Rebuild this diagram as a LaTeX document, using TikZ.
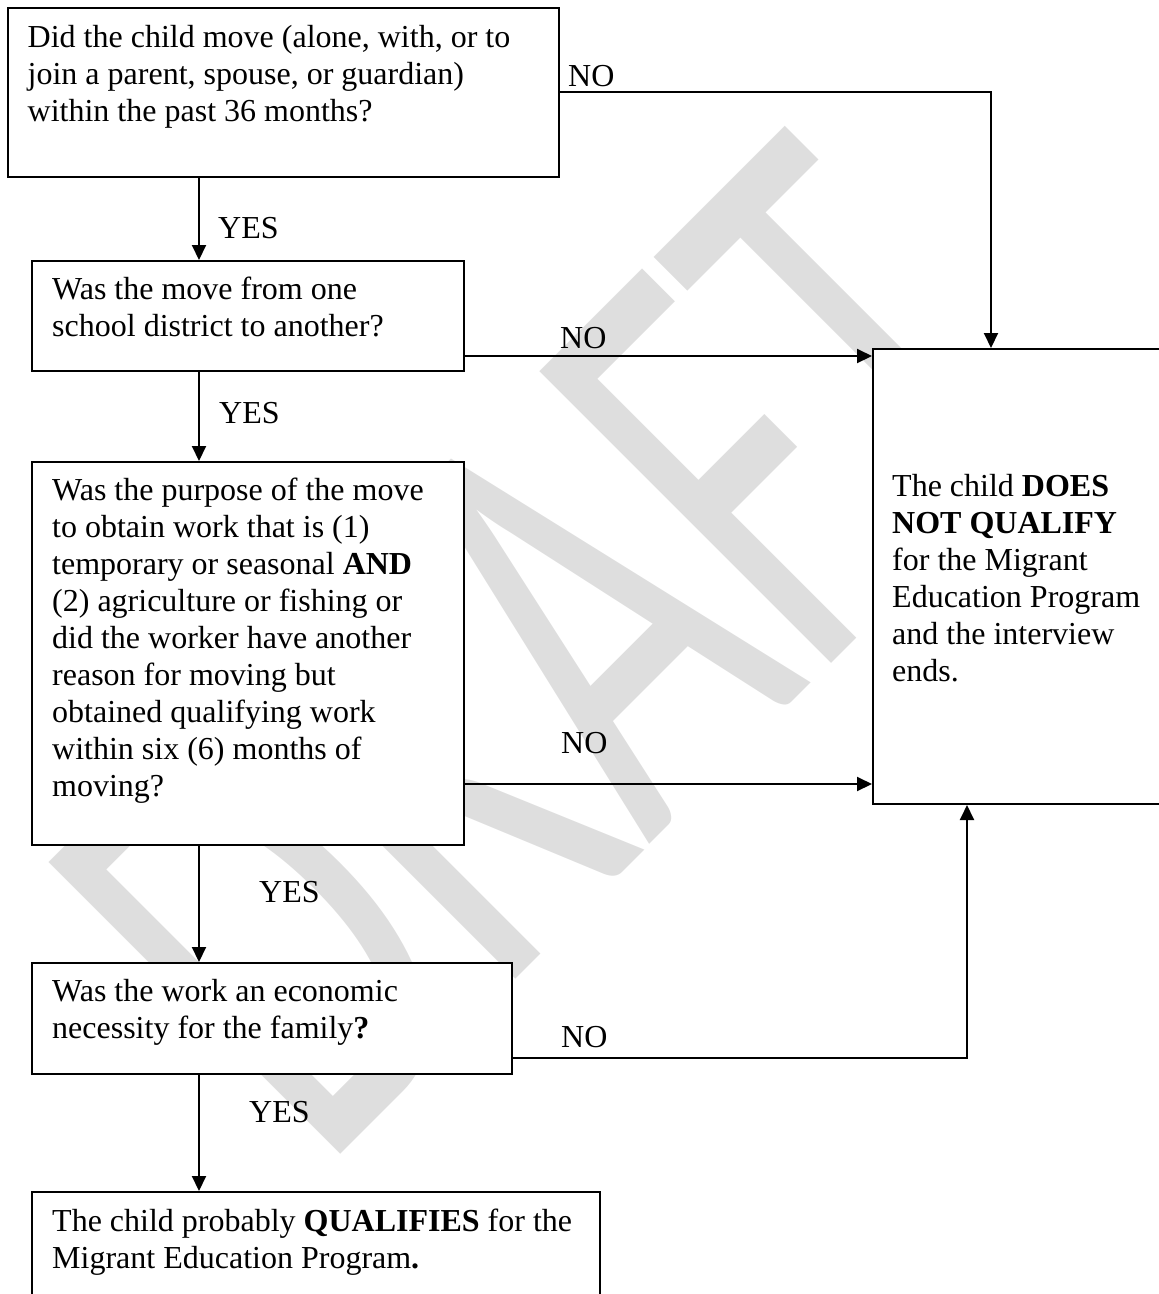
\documentclass[tikz,border=0pt]{standalone}
\usepackage{fontspec}
\setmainfont{Liberation Serif}
\newfontfamily\wmfont{Carlito}
\usetikzlibrary{arrows.meta}
\begin{document}
\begin{tikzpicture}[x=1pt,y=-1pt,
  box/.style={draw=black, line width=2pt, fill=white, rectangle, inner sep=0pt, anchor=north west},
  body/.style={anchor=base west, inner sep=0pt, font=\fontsize{32}{37}\selectfont},
  lbl/.style={anchor=west, inner sep=0pt, font=\fontsize{32}{37}\selectfont},
  flow/.style={line width=2pt, -{Triangle[length=15pt,width=14pt]}},
  wmark/.style={rotate=45, inner sep=0pt, text=black!13}]
\useasboundingbox (0,0) rectangle (1159,1294);
\clip (0,0) rectangle (1159,1294);

% watermark behind everything
\node[wmark] (wm) at (555,648) {\resizebox{1070pt}{412pt}{\wmfont DRAFT}};

% boxes
\node[box, minimum width=551pt, minimum height=169pt] (b1) at (6.7,6.7) {};
\node[box, minimum width=432pt, minimum height=110pt] (b2) at (30.7,260) {};
\node[box, minimum width=432pt, minimum height=383pt] (b3) at (30.7,461) {};
\node[box, minimum width=480pt, minimum height=111pt] (b4) at (30.7,962) {};
\node[box, minimum width=568pt, minimum height=120pt] (b5) at (30.7,1191) {};
\node[box, minimum width=300pt, minimum height=455pt] (rb) at (872,348) {};

% box texts
\node[body] (t1) at (27.5,47) {\parbox[t]{600pt}{Did the child move (alone, with, or to\\join a parent, spouse, or guardian)\\within the past 36 months?}};
\node[body] (t2) at (52,299) {\parbox[t]{420pt}{Was the move from one\\school district to another?}};
\node[body] (t3) at (52,500) {\parbox[t]{420pt}{Was the purpose of the move\\to obtain work that is (1)\\temporary or seasonal \textbf{AND}\\(2) agriculture or fishing or\\did the worker have another\\reason for moving but\\obtained qualifying work\\within six (6) months of\\moving?}};
\node[body] (t4) at (52,1001) {\parbox[t]{470pt}{Was the work an economic\\necessity for the family\textbf{?}}};
\node[body] (t5) at (52,1231) {\parbox[t]{560pt}{The child probably \textbf{QUALIFIES} for the\\Migrant Education Program\textbf{.}}};
\node[body] (t6) at (892,496) {\parbox[t]{270pt}{The child \textbf{DOES}\\\textbf{NOT QUALIFY}\\for the Migrant\\Education Program\\and the interview\\ends.}};

% routing points
\coordinate (colA) at (199,0);
\coordinate (c1) at (991,92);
\coordinate (n2) at (700,356);
\coordinate (n3) at (700,784);
\coordinate (c4) at (967,1058);

% YES connectors
\draw[flow] (b1.south -| colA) -- (b2.north -| colA);
\draw[flow] (b2.south -| colA) -- (b3.north -| colA);
\draw[flow] (b3.south -| colA) -- (b4.north -| colA);
\draw[flow] (b4.south -| colA) -- (b5.north -| colA);

% NO connectors
\draw[flow] (b1.east |- c1) -- (c1) -- (c1 |- rb.north);
\draw[flow] (b2.east |- n2) -- (rb.west |- n2);
\draw[flow] (b3.east |- n3) -- (rb.west |- n3);
\draw[flow] (b4.east |- c4) -- (c4) -- (c4 |- rb.south);

% labels
\node[lbl] (y1) at (218,228) {YES};
\node[lbl] (y2) at (219,413) {YES};
\node[lbl] (y3) at (259,892) {YES};
\node[lbl] (y4) at (249,1112) {YES};
\node[lbl] (no1) at (568,76) {NO};
\node[lbl] (no2) at (560,338) {NO};
\node[lbl] (no3) at (561,743) {NO};
\node[lbl] (no4) at (561,1037) {NO};
\end{tikzpicture}
\end{document}
